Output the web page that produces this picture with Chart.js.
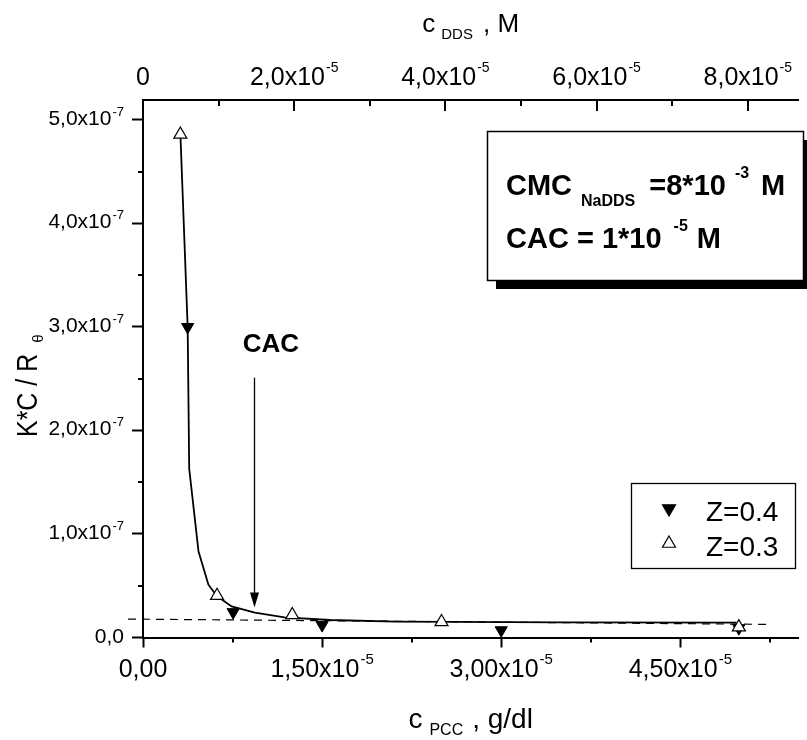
<!DOCTYPE html>
<html><head><meta charset="utf-8">
<script src="https://cdn.jsdelivr.net/npm/chart.js@4.4.1/dist/chart.umd.min.js"></script>
<style>html,body{margin:0;padding:0;background:#fff;}canvas{display:block;}</style>
</head><body>
<canvas id="chart" width="807" height="740"></canvas>
<script>
// ---------- data: x = c_PCC (g/dl), y = K*C/R_theta ----------
const z04X = [0.374e-5, 0.755e-5, 1.50e-5, 3.00e-5, 4.99e-5];
const z04Y = [3.00e-7, 0.245e-7, 0.12e-7, 0.07e-7, 0.09e-7];
const z03X = [0.313e-5, 0.62e-5, 1.25e-5, 2.50e-5, 4.99e-5];
const z03Y = [4.86e-7, 0.404e-7, 0.218e-7, 0.15e-7, 0.10e-7];
const fitX = [0.313e-5, 0.374e-5, 0.387e-5, 0.465e-5, 0.548e-5, 0.619e-5, 0.742e-5, 0.937e-5, 1.185e-5, 1.568e-5, 2.12e-5, 2.62e-5, 3.5e-5, 4.97e-5];
const fitY = [4.87e-7, 3.00e-7, 1.63e-7, 0.83e-7, 0.51e-7, 0.40e-7, 0.30e-7, 0.24e-7, 0.195e-7, 0.169e-7, 0.153e-7, 0.150e-7, 0.146e-7, 0.143e-7];
const baseX = [-0.125e-5, 5.23e-5];
const baseY = [0.178e-7, 0.127e-7];

// ---------- axes ----------
const xMin = 0, xMax = 5.488e-5;
const x2Min = 0, x2Max = 8.668e-5;
const yMin = 0, yMax = 5.193e-7;
const xMajorTicks = [0, 1.5e-5, 3.0e-5, 4.5e-5];
const xMajorLabels = ['0,00', '1,50x10^-5', '3,00x10^-5', '4,50x10^-5'];
const xMinorTicks = [0.75e-5, 2.25e-5, 3.75e-5, 5.25e-5];
const x2MajorTicks = [0, 2e-5, 4e-5, 6e-5, 8e-5];
const x2MajorLabels = ['0', '2,0x10^-5', '4,0x10^-5', '6,0x10^-5', '8,0x10^-5'];
const x2MinorTicks = [1e-5, 3e-5, 5e-5, 7e-5];
const yMajorTicks = [0, 1e-7, 2e-7, 3e-7, 4e-7, 5e-7];
const yMajorLabels = ['0,0', '1,0x10^-7', '2,0x10^-7', '3,0x10^-7', '4,0x10^-7', '5,0x10^-7'];
const yMinorTicks = [0.5e-7, 1.5e-7, 2.5e-7, 3.5e-7, 4.5e-7];

// annotation (data units)
const cacArrowX = 0.93e-5, cacArrowTop = 2.51e-7, cacArrowTip = 0.29e-7;
const cacTextX = 0.835e-5, cacTextY = 2.76e-7;

const FAMILY = "'Liberation Sans', Arial, Helvetica, sans-serif";
const font = (s, b) => (b ? 'bold ' : '') + s + 'px ' + FAMILY;
const toPts = (xs, ys) => xs.map((x, i) => ({x: x, y: ys[i]}));

function drawSci(ctx, label, x, y, bs, es, raise, align, bold) {
  const parts = label.split('^');
  ctx.font = font(bs, bold);
  const wb = ctx.measureText(parts[0]).width;
  let we = 0;
  if (parts[1]) { ctx.font = font(es, bold); we = ctx.measureText(parts[1]).width + 1; }
  const w = wb + we;
  const x0 = align === 'center' ? x - w / 2 : (align === 'right' ? x - w : x);
  ctx.textAlign = 'left'; ctx.textBaseline = 'alphabetic';
  ctx.font = font(bs, bold); ctx.fillText(parts[0], x0, y);
  if (parts[1]) { ctx.font = font(es, bold); ctx.fillText(parts[1], x0 + wb + 1, y - raise); }
}
function seq(ctx, x, y, segs) {
  // segs: [text, size, bold, dy, gapAfter]
  ctx.textAlign = 'left'; ctx.textBaseline = 'alphabetic';
  for (const s of segs) {
    ctx.font = font(s[1], s[2]);
    ctx.fillText(s[0], x, y + s[3]);
    x += ctx.measureText(s[0]).width + s[4];
  }
  return x;
}
function seqWidth(ctx, segs) {
  let w = 0;
  segs.forEach((s, i) => { ctx.font = font(s[1], s[2]); w += ctx.measureText(s[0]).width + (i < segs.length - 1 ? s[4] : 0); });
  return w;
}
function tri(ctx, x, y, r, down, fill) {
  ctx.beginPath();
  let a = down ? Math.PI : 0;
  for (let i = 0; i < 3; i++) {
    const px = x + Math.sin(a) * r, py = y - Math.cos(a) * r;
    i ? ctx.lineTo(px, py) : ctx.moveTo(px, py);
    a += 2 * Math.PI / 3;
  }
  ctx.closePath();
  ctx.fillStyle = fill; ctx.fill();
  ctx.lineWidth = 1.2; ctx.strokeStyle = '#000'; ctx.stroke();
}

const decor = {
  id: 'decor',
  afterDraw(chart) {
    const ctx = chart.ctx, ca = chart.chartArea;
    const xs = chart.scales.x, x2 = chart.scales.x2, ys = chart.scales.y;
    ctx.save();
    ctx.strokeStyle = '#000'; ctx.fillStyle = '#000';
    // minor ticks (outward) and top-axis ticks (inward)
    ctx.lineWidth = 2;
    ctx.beginPath();
    xMinorTicks.forEach(v => { const p = Math.round(xs.getPixelForValue(v)); ctx.moveTo(p, ca.bottom); ctx.lineTo(p, ca.bottom + 5); });
    yMinorTicks.forEach(v => { const p = Math.round(ys.getPixelForValue(v)); ctx.moveTo(ca.left - 5, p); ctx.lineTo(ca.left, p); });
    x2MajorTicks.forEach(v => { const p = Math.round(x2.getPixelForValue(v)); ctx.moveTo(p, ca.top); ctx.lineTo(p, ca.top + 11); });
    x2MinorTicks.forEach(v => { const p = Math.round(x2.getPixelForValue(v)); ctx.moveTo(p, ca.top); ctx.lineTo(p, ca.top + 6); });
    ctx.stroke();

    // tick labels
    xMajorTicks.forEach((v, i) => drawSci(ctx, xMajorLabels[i], xs.getPixelForValue(v), ca.bottom + 39, 25, 15, 13, 'center'));
    x2MajorTicks.forEach((v, i) => drawSci(ctx, x2MajorLabels[i], x2.getPixelForValue(v), ca.top - 15, 25, 14, 13, 'center'));
    yMajorTicks.forEach((v, i) => drawSci(ctx, yMajorLabels[i], ca.left - 19, ys.getPixelForValue(v) + 5, 21, 13, 9, 'right'));

    // axis titles
    const cx = (ca.left + ca.right) / 2;
    let segs = [['c', 26, false, 0, 6], ['DDS', 15, false, 7, 10], [', M', 26, false, 0, 0]];
    seq(ctx, cx - seqWidth(ctx, segs) / 2, 32, segs);
    segs = [['c', 28, false, 0, 7], ['PCC', 16, false, 7, 9], [', g/dl', 28, false, 0, 0]];
    seq(ctx, cx - seqWidth(ctx, segs) / 2, 728, segs);
    ctx.save();
    ctx.translate(37, 437);
    ctx.rotate(-Math.PI / 2);
    ctx.save();
    ctx.scale(0.86, 1);
    ctx.font = font(29, false); ctx.textAlign = 'left'; ctx.textBaseline = 'alphabetic';
    ctx.fillText('K*C / R', 0, 0);
    const tw = ctx.measureText('K*C / R').width * 0.86;
    ctx.restore();
    ctx.font = font(15, false);
    ctx.fillText('\u03B8', tw + 11, 6);
    ctx.restore();

    // CAC annotation
    const ax = Math.round(xs.getPixelForValue(cacArrowX)) + 0.5;
    const aTop = ys.getPixelForValue(cacArrowTop), aTip = ys.getPixelForValue(cacArrowTip);
    ctx.lineWidth = 1.3;
    ctx.beginPath(); ctx.moveTo(ax, aTop); ctx.lineTo(ax, aTip - 12); ctx.stroke();
    ctx.beginPath(); ctx.moveTo(ax, aTip); ctx.lineTo(ax - 4.5, aTip - 15); ctx.lineTo(ax + 4.5, aTip - 15); ctx.closePath(); ctx.fill();
    ctx.font = font(26, true); ctx.textAlign = 'left'; ctx.textBaseline = 'alphabetic';
    ctx.fillText('CAC', xs.getPixelForValue(cacTextX), ys.getPixelForValue(cacTextY));

    // info box with shadow
    const bx = 487, by = 131, bw = 316, bh = 149;
    ctx.fillStyle = '#000'; ctx.fillRect(bx + 9, by + 9, bw, bh);
    ctx.fillStyle = '#fff'; ctx.fillRect(bx, by, bw, bh);
    ctx.lineWidth = 1.5; ctx.strokeRect(bx + 0.5, by + 0.5, bw, bh);
    ctx.fillStyle = '#000';
    seq(ctx, 506, 195, [['CMC', 29, true, 0, 9], ['NaDDS', 16, true, 11, 14], ['=8*10', 29, true, 0, 9], ['-3', 16, true, -17, 12], ['M', 29, true, 0, 0]]);
    seq(ctx, 506, 248, [['CAC = 1*10', 29, true, 0, 12], ['-5', 16, true, -17, 9], ['M', 29, true, 0, 0]]);

    // legend
    const lx = 631, ly = 483, lw = 164, lh = 85;
    ctx.fillStyle = '#fff'; ctx.fillRect(lx, ly, lw, lh);
    ctx.lineWidth = 1.3; ctx.strokeRect(lx + 0.5, ly + 0.5, lw, lh);
    const ds = chart.data.datasets;
    const legendRows = [ds[1], ds[0]];
    legendRows.forEach((d, i) => {
      const yy = 508.5 + i * 35;
      tri(ctx, 669, yy, 7.5, d.pointRotation === 180, d.pointBackgroundColor);
      ctx.fillStyle = '#000'; ctx.font = font(28, false); ctx.textAlign = 'left';
      ctx.fillText(d.label, 706, yy + 12);
    });
    ctx.restore();
  }
};

new Chart(document.getElementById('chart'), {
  type: 'scatter',
  data: {
    datasets: [
      { label: 'Z=0.3', data: toPts(z03X, z03Y), showLine: false, pointStyle: 'triangle', pointRadius: 7.5,
        pointBackgroundColor: '#fff', pointBorderColor: '#000', pointBorderWidth: 1.2, order: 0 },
      { label: 'Z=0.4', data: toPts(z04X, z04Y), showLine: false, pointStyle: 'triangle', pointRotation: 180, pointRadius: 7,
        pointBackgroundColor: '#000', pointBorderColor: '#000', pointBorderWidth: 1, order: 1 },
      { label: 'fit', data: toPts(fitX, fitY), showLine: true, borderColor: '#000', borderWidth: 1.8,
        pointRadius: 0, tension: 0, order: 2 },
      { label: 'baseline', data: toPts(baseX, baseY), showLine: true, borderColor: '#000', borderWidth: 1.2,
        borderDash: [8, 6], pointRadius: 0, clip: false, order: 3 }
    ]
  },
  options: {
    responsive: false, animation: false, devicePixelRatio: 1, events: [],
    layout: { padding: { left: 132, top: 100, right: 0, bottom: 92.5 } },
    plugins: { legend: { display: false }, tooltip: { enabled: false } },
    scales: {
      x: { type: 'linear', position: 'bottom', min: xMin, max: xMax,
           afterBuildTicks: a => { a.ticks = xMajorTicks.map(v => ({value: v})); },
           ticks: { display: false },
           grid: { display: true, drawOnChartArea: false, drawTicks: true, tickLength: 10, tickWidth: 2, tickColor: '#000', color: '#000' },
           border: { display: true, color: '#000', width: 2 } },
      x2: { type: 'linear', axis: 'x', position: 'top', min: x2Min, max: x2Max,
           ticks: { display: false },
           grid: { display: true, drawOnChartArea: false, drawTicks: false },
           border: { display: true, color: '#000', width: 2 } },
      y: { type: 'linear', position: 'left', min: yMin, max: yMax,
           afterBuildTicks: a => { a.ticks = yMajorTicks.map(v => ({value: v})); },
           ticks: { display: false },
           grid: { display: true, drawOnChartArea: false, drawTicks: true, tickLength: 11, tickWidth: 2, tickColor: '#000', color: '#000' },
           border: { display: true, color: '#000', width: 2 } }
    }
  },
  plugins: [decor]
});
</script>
</body></html>
